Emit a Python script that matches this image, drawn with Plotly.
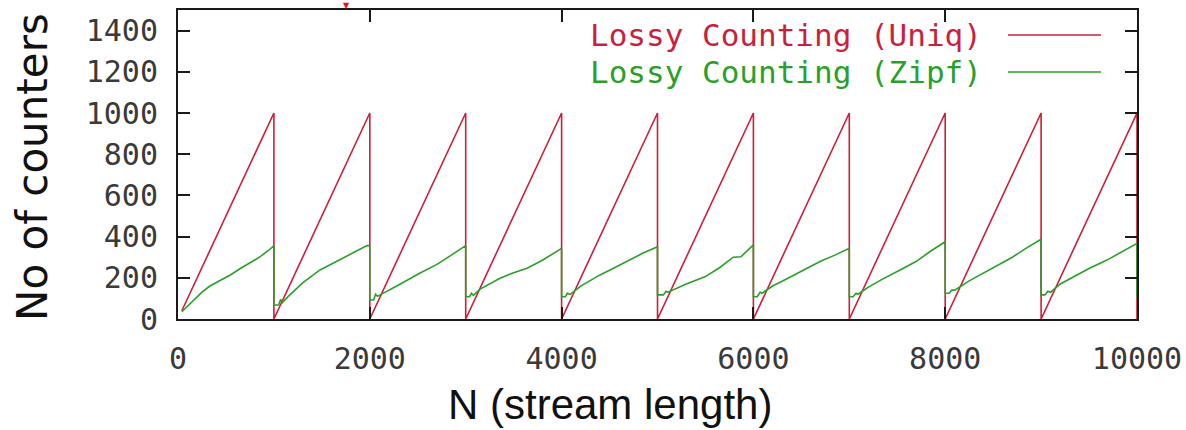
import plotly.graph_objects as go

# Lossy Counting: number of counters kept vs stream length
uniq_x = [40, 1000, 1000, 2000, 2000, 3000, 3000, 4000, 4000, 5000, 5000,
          6000, 6000, 7000, 7000, 8000, 8000, 9000, 9000, 10000, 10000]
uniq_y = [40, 1000, 0, 1000, 0, 1000, 0, 1000, 0, 1000, 0,
          1000, 0, 1000, 0, 1000, 0, 1000, 0, 1000, 0]

zipf_x = [40, 150, 250, 333, 450, 550, 650, 750, 850, 950, 1000,
          1000, 1050, 1070, 1090, 1150, 1300, 1481, 1650, 1800, 1970, 2000,
          2000, 2040, 2060, 2080, 2106, 2300, 2520, 2700, 2850, 3000,
          3000, 3040, 3060, 3080, 3150, 3358, 3500, 3640, 3800, 3900, 4000,
          4000, 4040, 4060, 4090, 4200, 4400, 4505, 4700, 4850, 5000,
          5000, 5060, 5090, 5110, 5300, 5500, 5650, 5790, 5870, 6000,
          6000, 6040, 6070, 6090, 6200, 6350, 6500, 6700, 6850, 7000,
          7000, 7040, 7070, 7090, 7200, 7350, 7530, 7700, 7850, 8000,
          8000, 8040, 8070, 8100, 8250, 8500, 8700, 8850, 9000,
          9000, 9040, 9070, 9100, 9200, 9333, 9500, 9687, 9850, 10000, 10000]
zipf_y = [35, 85, 130, 160, 190, 215, 245, 272, 300, 335, 356,
          68, 68, 95, 80, 110, 175, 238, 280, 315, 356, 356,
          92, 92, 120, 110, 117, 165, 222, 265, 310, 356,
          108, 108, 125, 115, 145, 198, 225, 246, 285, 315, 343,
          108, 108, 125, 120, 160, 214, 238, 285, 320, 351,
          117, 117, 135, 130, 170, 206, 250, 300, 302, 360,
          108, 108, 130, 125, 160, 195, 230, 280, 310, 343,
          108, 108, 125, 120, 155, 195, 238, 280, 330, 375,
          125, 125, 140, 140, 185, 248, 300, 345, 387,
          117, 117, 135, 130, 170, 205, 245, 286, 330, 367, 107]

series_names = ["Lossy Counting (Uniq)", "Lossy Counting (Zipf)"]
x_ticks = [0, 2000, 4000, 6000, 8000, 10000]
y_ticks = [0, 200, 400, 600, 800, 1000, 1200, 1400]

RED = "#cc1f3a"
GREEN = "#2a9f2a"

fig = go.Figure()
fig.add_trace(go.Scatter(x=uniq_x, y=uniq_y, mode="lines", name=series_names[0],
                         line=dict(color=RED, width=1.6), showlegend=False))
fig.add_trace(go.Scatter(x=zipf_x, y=zipf_y, mode="lines", name=series_names[1],
                         line=dict(color=GREEN, width=1.6), showlegend=False))

L, R, T, B = 178, 49, 10, 111
W, H = 1186, 430
pw = W - L - R
ph = H - T - B

def px(xp):
    return (xp - L) / pw

def py(yp):
    return (H - B - yp) / ph

# small red pointer just above the frame
fig.add_annotation(x=px(346), y=py(6), xref="paper", yref="paper", text="▼",
                   showarrow=False, xanchor="center", yanchor="middle",
                   font=dict(family="DejaVu Sans", size=8, color="#ee1111"))

# hand-drawn key: text then line sample, as in gnuplot
key_rows = [(series_names[0], RED, 35), (series_names[1], GREEN, 72)]
for name, col, ypix in key_rows:
    fig.add_annotation(x=px(984), y=py(ypix), xref="paper", yref="paper",
                       text=name, showarrow=False, xanchor="right", yanchor="middle",
                       font=dict(family="DejaVu Sans Mono", size=31, color=col))
    fig.add_shape(type="line", xref="paper", yref="paper",
                  x0=px(1008), x1=px(1101), y0=py(ypix), y1=py(ypix),
                  line=dict(color=col, width=1.6))

fig.add_annotation(x=px(32), y=py(167), xref="paper", yref="paper",
                   text="No of counters", textangle=-90, showarrow=False,
                   xanchor="center", yanchor="middle",
                   font=dict(family="DejaVu Sans", size=42, color="#111"))
fig.add_annotation(x=px(610), y=py(404), xref="paper", yref="paper",
                   text="N (stream length)", showarrow=False,
                   xanchor="center", yanchor="middle",
                   font=dict(family="Liberation Sans", size=42, color="#111"))

axis_common = dict(showgrid=False, zeroline=False, showline=True, mirror="allticks",
                   linecolor="#1a1a1a", linewidth=2, ticks="inside", ticklen=12,
                   tickwidth=2, tickcolor="#1a1a1a",
                   tickfont=dict(family="DejaVu Sans Mono", size=30, color="#3a3a3a"))

fig.update_xaxes(range=[0, 10000], tickvals=x_ticks, ticktext=[str(v) for v in x_ticks],
                 ticklabelstandoff=12, **axis_common)
fig.update_yaxes(range=[0, 1500], tickvals=y_ticks, ticktext=[str(v) for v in y_ticks],
                 ticklabelstandoff=12, **axis_common)

fig.update_layout(width=W, height=H, margin=dict(l=L, r=R, t=T, b=B, autoexpand=False),
                  paper_bgcolor="white", plot_bgcolor="white")

fig.write_html("out.html")
